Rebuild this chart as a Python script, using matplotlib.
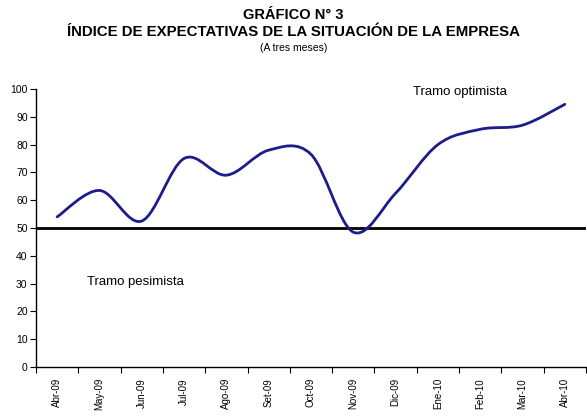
"""Índice de expectativas de la situación de la empresa (a tres meses)."""

import matplotlib
matplotlib.use("Agg")
import matplotlib.pyplot as plt
from matplotlib.path import Path
from matplotlib.patches import PathPatch
import numpy as np

MONTHS = ["Abr-09", "May-09", "Jun-09", "Jul-09", "Ago-09", "Set-09", "Oct-09",
          "Nov-09", "Dic-09", "Ene-10", "Feb-10", "Mar-10", "Abr-10"]
INDEX = [54.0, 63.5, 52.5, 75.0, 69.0, 78.0, 76.5,
         48.5, 62.5, 80.0, 85.5, 87.0, 94.5]
NEUTRAL = 50
Y_TICKS = list(range(0, 101, 10))

LINE_COLOR = "#1c1c8a"


def smooth_path(x, y):
    """Excel-style smoothed line: cubic Bezier segments (Catmull-Rom control points)."""
    pts = np.column_stack([x, y])
    verts = [pts[0]]
    codes = [Path.MOVETO]
    n = len(pts)
    for i in range(n - 1):
        p0 = pts[max(i - 1, 0)]
        p1 = pts[i]
        p2 = pts[i + 1]
        p3 = pts[min(i + 2, n - 1)]
        c1 = p1 + (p2 - p0) / 6.0
        c2 = p2 - (p3 - p1) / 6.0
        verts += [c1, c2, p2]
        codes += [Path.CURVE4] * 3
    return Path(verts, codes)


fig = plt.figure(figsize=(5.87, 4.16), dpi=100)
ax = fig.add_axes([0.0613, 0.118, 0.937, 0.668])

x = np.arange(len(MONTHS))
patch = PathPatch(smooth_path(x, INDEX), facecolor="none", edgecolor=LINE_COLOR,
                  linewidth=2.0, capstyle="round", joinstyle="round", zorder=3)
ax.add_patch(patch)
ax.axhline(NEUTRAL, color="black", linewidth=2.0, zorder=2)

ax.set_xlim(-0.5, len(MONTHS) - 0.5)
ax.set_ylim(0, 100)

ax.spines["top"].set_visible(False)
ax.spines["right"].set_visible(False)
for s in ("left", "bottom"):
    ax.spines[s].set_linewidth(1.0)

ax.set_yticks(Y_TICKS)
ax.set_yticklabels([str(v) for v in Y_TICKS], fontsize=7.5,
                   family=["Liberation Sans", "DejaVu Sans"])
ax.tick_params(axis="y", length=4, width=0.8, pad=2)

ax.set_xticks(x)
ax.set_xticklabels(MONTHS, rotation=90, fontsize=7,
                   family=["Liberation Sans", "DejaVu Sans"])
ax.set_xticks(np.arange(-0.5, len(MONTHS), 1.0), minor=True)
ax.tick_params(axis="x", which="major", length=0, pad=8)
ax.tick_params(axis="x", which="minor", length=4, width=0.8)

ax.text(0.7, 30.5, "Tramo pesimista", fontsize=9.5, va="center",
        family=["Liberation Sans", "DejaVu Sans"])
ax.text(8.4, 99, "Tramo optimista", fontsize=9.5,
        family=["Liberation Sans", "DejaVu Sans"], va="center")

title_font = ["Liberation Sans Narrow", "Liberation Sans", "DejaVu Sans"]
fig.text(0.5, 0.965, "GRÁFICO N° 3", ha="center", va="center", fontsize=10.5,
         fontweight="bold", family=title_font)
fig.text(0.5, 0.922, "ÍNDICE DE EXPECTATIVAS DE LA SITUACIÓN DE LA EMPRESA",
         ha="center", va="center", fontsize=10.8, fontweight="bold", family=title_font)
fig.text(0.5, 0.884, "(A tres meses)", ha="center", va="center", fontsize=7.5,
         family=title_font)

fig.savefig("out.png", dpi=100)
